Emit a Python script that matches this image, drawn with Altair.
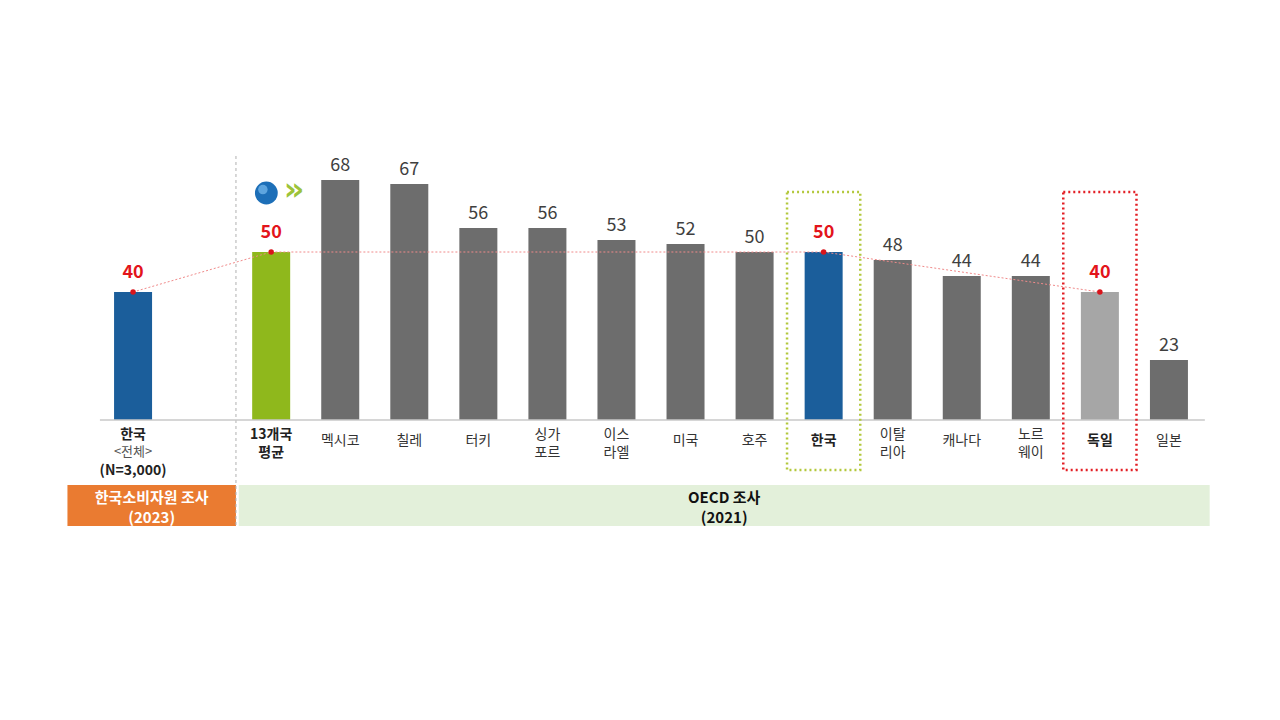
import altair as alt
import pandas as pd

FONT = "Noto Sans CJK KR"

categories = ["한국", "13개국\n평균", "멕시코", "칠레", "터키", "싱가\n포르", "이스\n라엘",
              "미국", "호주", "한국", "이탈\n리아", "캐나다", "노르\n웨이", "독일", "일본"]
values = [40, 50, 68, 67, 56, 56, 53, 52, 50, 50, 48, 44, 44, 40, 23]
slots = [0, 2, 3, 4, 5, 6, 7, 8, 9, 10, 11, 12, 13, 14, 15]
groups = ["kr_all", "avg", "other", "other", "other", "other", "other", "other",
          "other", "kr", "other", "other", "other", "de", "other"]
highlight = [True, True, False, False, False, False, False, False, False, True,
             False, False, False, True, False]

group_domain = ["kr_all", "avg", "other", "kr", "de"]
group_colors = ["#1b5e9b", "#8fb81c", "#6d6d6d", "#1b5e9b", "#a6a6a6"]

survey_names = ["한국소비자원 조사\n(2023)", "OECD 조사\n(2021)"]
survey_start = [-0.95, 1.53]
survey_end = [1.49, 15.59]

sub_notes = ["<전체>", "(N=3,000)"]

BASE = 8  # value at which the bars start (axis baseline)

df = pd.DataFrame({
    "cat": categories, "value": values, "slot": slots,
    "group": groups, "hl": highlight,
})
df["multi"] = df["cat"].str.contains("\n") | (df["group"] == "kr_all")
df["bold"] = df["hl"]

bands = pd.DataFrame({"name": survey_names, "x": survey_start, "x2": survey_end, "k": [0, 1]})

X = alt.Scale(domain=[-1, 16], padding=0)
Y = alt.Scale(domain=[-20, 80], padding=0)


def xq(f):
    return alt.X(f, type="quantitative", scale=X, axis=None)


def yq(f):
    return alt.Y(f, type="quantitative", scale=Y, axis=None)


base = alt.Chart(df)

bars = base.transform_calculate(b=str(BASE)).mark_bar(size=38).encode(
    x=xq("slot"), y=yq("value"), y2="b:Q",
    color=alt.Color("group:N", scale=alt.Scale(domain=group_domain, range=group_colors), legend=None),
)

baseline = alt.Chart(pd.DataFrame({"x": [-0.48], "x2": [15.52], "y": [BASE]})).mark_rule(
    color="#c8c8c8", strokeWidth=1.5).encode(x=xq("x"), x2="x2:Q", y=yq("y"))

sep = alt.Chart(pd.DataFrame({"x": [1.49], "y": [74], "y2": [-18.5]})).mark_rule(
    color="#b0b0b0", strokeDash=[3, 3], strokeWidth=1).encode(x=xq("x"), y=yq("y"), y2="y2:Q")

val_norm = base.transform_filter("!datum.hl").mark_text(
    baseline="bottom", dy=-5, font=FONT, fontSize=18, color="#3f3f3f").encode(
    x=xq("slot"), y=yq("value"), text="value:Q")

val_hl = base.transform_filter("datum.hl").mark_text(
    baseline="bottom", dy=-10, font=FONT, fontSize=18, fontWeight="bold", color="#e3141b").encode(
    x=xq("slot"), y=yq("value"), text="value:Q")

hl_line = base.transform_filter("datum.hl").mark_line(
    color="#f08a8a", strokeDash=[2, 2], strokeWidth=1).encode(
    x=xq("slot"), y=yq("value"), order="slot:Q")

hl_pts = base.transform_filter("datum.hl").mark_circle(size=30, color="#d9141b", opacity=1).encode(
    x=xq("slot"), y=yq("value"))

lab_y = "datum.multi ? 6.0 : 4.5"
cat_bold = base.transform_filter("datum.bold").transform_calculate(ly=lab_y).mark_text(
    baseline="top", lineBreak="\n", lineHeight=18, font=FONT, fontSize=14, fontWeight="bold",
    color="#222222").encode(x=xq("slot"), y=yq("ly"), text="cat:N")
cat_norm = base.transform_filter("!datum.bold").transform_calculate(ly=lab_y).mark_text(
    baseline="top", lineBreak="\n", lineHeight=18, font=FONT, fontSize=14,
    color="#333333").encode(x=xq("slot"), y=yq("ly"), text="cat:N")

note1 = alt.Chart(pd.DataFrame({"t": [sub_notes[0]], "x": [0], "y": [1.4]})).mark_text(
    baseline="top", font=FONT, fontSize=13, color="#555555").encode(
    x=xq("x"), y=yq("y"), text="t:N")
note2 = alt.Chart(pd.DataFrame({"t": [sub_notes[1]], "x": [0], "y": [-3.1]})).mark_text(
    baseline="top", font=FONT, fontSize=14, fontWeight="bold", color="#222222").encode(
    x=xq("x"), y=yq("y"), text="t:N")


def box(group, color):
    return base.transform_filter(f"datum.group == '{group}'").transform_calculate(
        bx="datum.slot - 0.53", bx2="datum.slot + 0.53", by="65", by2="-4.5").mark_rect(
        fill="transparent", stroke=color, strokeWidth=2.5, strokeDash=[2, 3]).encode(
        x=xq("bx"), x2="bx2:Q", y=yq("by"), y2="by2:Q")


box_kr = box("kr", "#b3c83c")
box_de = box("de", "#e31e24")


def band(k, fill, tcolor):
    src = alt.Chart(bands).transform_filter(f"datum.k == {k}")
    r = src.transform_calculate(by="-8.25", by2="-18.5").mark_rect(color=fill).encode(
        x=xq("x"), x2="x2:Q", y=yq("by"), y2="by2:Q")
    t = src.transform_calculate(mx="(datum.x + datum.x2) / 2", my="-11.6").mark_text(
        baseline="middle", lineBreak="\n", lineHeight=20, font=FONT, fontSize=15,
        fontWeight="bold", color=tcolor).encode(x=xq("mx"), y=yq("my"), text="name:N")
    return r, t


band0_r, band0_t = band(0, "#ea7b31", "#ffffff")
band1_r, band1_t = band(1, "#e3f0da", "#111111")

logo = alt.Chart(pd.DataFrame({"x": [1.93], "y": [64.75]})).mark_point(
    shape="circle", filled=True, size=520, color="#1d6fb8", opacity=1).encode(
    x=xq("x"), y=yq("y"))
logo_hi = alt.Chart(pd.DataFrame({"x": [1.88], "y": [65.6]})).mark_point(
    shape="circle", filled=True, size=90, color="#6fb3e8", opacity=0.8).encode(
    x=xq("x"), y=yq("y"))
logo2 = alt.Chart(pd.DataFrame({"t": ["»"], "x": [2.33], "y": [65.4]})).mark_text(
    font="DejaVu Sans", fontSize=32, fontWeight="bold", color="#9cc33a", baseline="middle").encode(
    x=xq("x"), y=yq("y"), text="t:N")

chart = alt.layer(
    band0_r, band1_r, band0_t, band1_t, sep, bars, baseline, hl_line, hl_pts, val_norm, val_hl,
    cat_bold, cat_norm, note1, note2, box_kr, box_de, logo, logo_hi, logo2,
).properties(
    width=1174, height=400,
    background="white",
    autosize=alt.AutoSizeParams(type="none"),
    padding={"left": 56, "top": 124, "right": 30, "bottom": 60},
).configure_view(stroke=None)

chart.save("out.html", embed_options={"renderer": "svg", "actions": False})
